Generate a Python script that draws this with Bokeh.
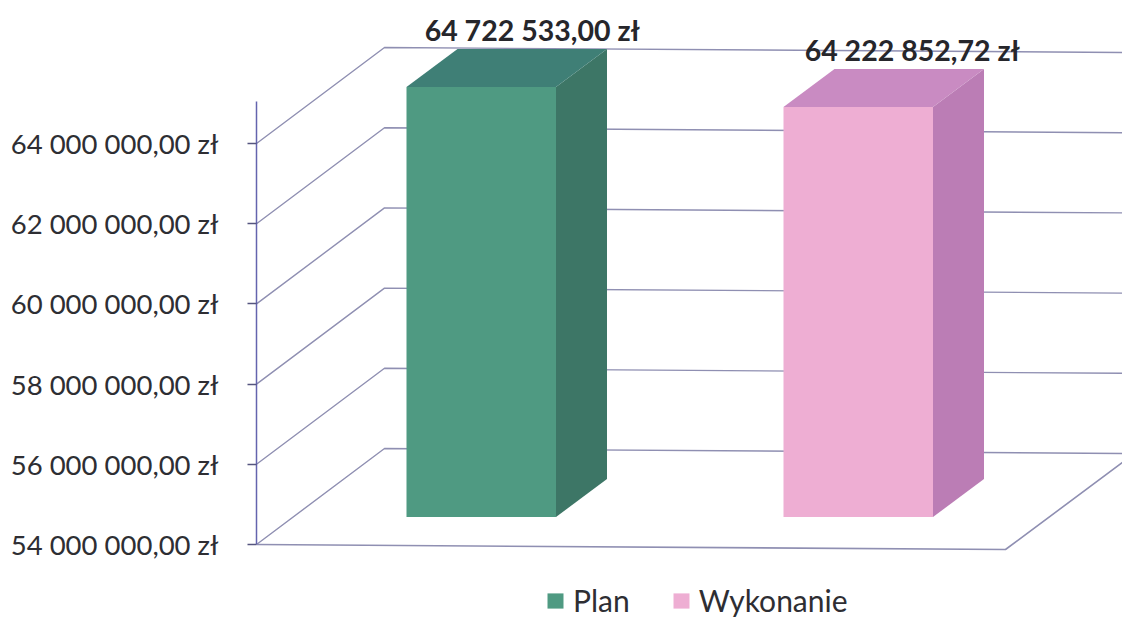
from bokeh.plotting import figure
from bokeh.models import Range1d, FixedTicker, Legend, LegendItem
from bokeh.core.properties import value
from bokeh.embed import file_html
from bokeh.resources import INLINE

categories = ["Plan", "Wykonanie"]
amounts = [64722533.00, 64222852.72]
amount_labels = ["64 722 533,00 zł", "64 222 852,72 zł"]
tick_values = [54000000, 56000000, 58000000, 60000000, 62000000, 64000000]
tick_labels = ["54 000 000,00 zł", "56 000 000,00 zł", "58 000 000,00 zł",
               "60 000 000,00 zł", "62 000 000,00 zł", "64 000 000,00 zł"]
front_colors = ["#4f9a82", "#eeaed3"]
top_colors = ["#3f7f76", "#c98bc2"]
side_colors = ["#3d7666", "#bb7db5"]

W, H = 1122, 619
AXIS_X = 256          # page x of the value axis
BASE = 54000000
PX = 2000000 / 80.2   # value units per pixel
BASE_PAGE_Y = 544


def dv(px):
    return px * PX


p = figure(width=W, height=H, output_backend="svg", toolbar_location=None,
           x_axis_location=None, min_border_left=AXIS_X, min_border_right=0,
           min_border_top=0, min_border_bottom=0, outline_line_color=None,
           x_range=Range1d(AXIS_X, W),
           y_range=Range1d(BASE - dv(H - BASE_PAGE_Y), BASE + dv(BASE_PAGE_Y)))
p.grid.visible = False

ax = p.yaxis[0]
ax.ticker = FixedTicker(ticks=tick_values)
ax.major_label_overrides = dict(zip(tick_values, tick_labels))
ax.bounds = (BASE, 65050000)
ax.axis_line_color = "#6464ae"
ax.axis_line_width = 1.5
ax.major_tick_line_color = "#55557f"
ax.major_tick_line_width = 1.5
ax.major_tick_in = 0
ax.major_tick_out = 9
ax.minor_tick_line_color = None
ax.major_label_standoff = 29
ax.major_label_text_font = "Lato"
ax.major_label_text_font_size = "27.5px"
ax.major_label_text_color = "#2e2e33"

# Wall and floor lines
GRID = "#8f8fb2"
BACK_X, BACK_DY, TILT = 384, 96, 5
xs, ys = [], []
for t in tick_values:
    xs.append([AXIS_X, BACK_X, W])
    ys.append([t, t + dv(BACK_DY), t + dv(BACK_DY - TILT)])
p.multi_line(xs, ys, line_color=GRID, line_width=1.4)
p.line([AXIS_X, 1005, W], [BASE, BASE - dv(5), BASE + dv(82)],
       line_color=GRID, line_width=1.6)

# 3D columns
DX, DY = 51, 38
FLOOR_DY = 27.5
BAR_W = 149.5
legend_items = []
for i, (name, amt, lab) in enumerate(zip(categories, amounts, amount_labels)):
    x0 = 406 + i * 377
    x1 = x0 + BAR_W
    y0 = BASE + dv(FLOOR_DY)
    y1 = amt + dv(FLOOR_DY)
    p.patch([x1, x1 + DX, x1 + DX, x1], [y0, y0 + dv(DY), y1 + dv(DY), y1],
            fill_color=side_colors[i], line_color=None)
    p.patch([x0, x1, x1 + DX, x0 + DX], [y1, y1, y1 + dv(DY), y1 + dv(DY)],
            fill_color=top_colors[i], line_color=None)
    front = p.patch([x0, x1, x1, x0], [y0, y0, y1, y1],
                    fill_color=front_colors[i], line_color=None)
    legend_items.append(LegendItem(label=name, renderers=[front]))
    p.text([x0 + BAR_W / 2 + DX + i * 3], [y1 + dv(DY + 2)], text=[lab],
           text_align="center", text_baseline="bottom",
           text_font=value("Lato"), text_font_style="bold",
           text_font_size="28.5px", text_color="#26262b")

legend = Legend(items=legend_items, orientation="horizontal", location=(289, 1),
                border_line_color=None, background_fill_alpha=0,
                label_text_font="Lato", label_text_font_size="30px",
                label_text_color="#2e2e33", glyph_width=20, glyph_height=19,
                spacing=41, label_standoff=8, padding=0, margin=0)
p.add_layout(legend, "center")

open("out.html", "w").write(file_html(p, INLINE))
